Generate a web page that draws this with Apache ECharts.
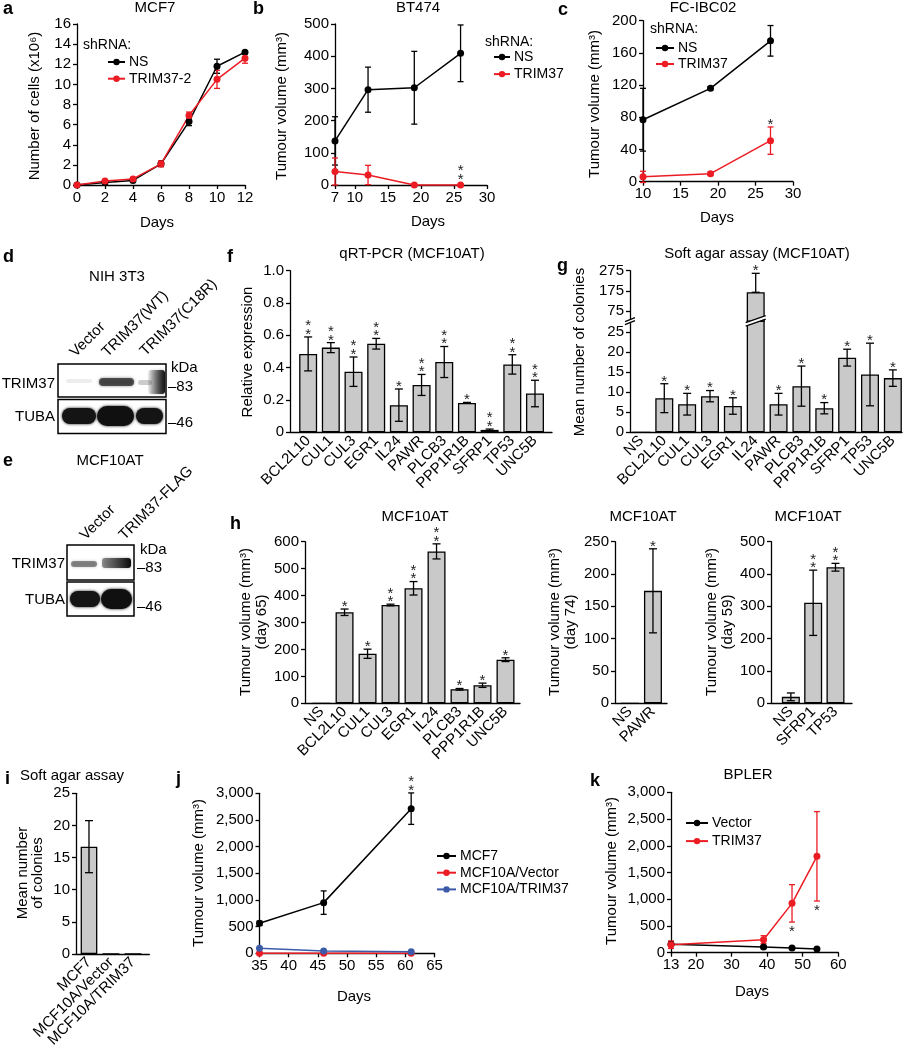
<!DOCTYPE html>
<html><head><meta charset="utf-8">
<script src="https://cdn.jsdelivr.net/npm/echarts@6/dist/echarts.min.js"></script>
<style>html,body{margin:0;padding:0;background:#fff}#c{width:909px;height:1050px}</style>
</head><body><div id="c"></div><script>
// ---------------- DATA ----------------
const aDays = [0, 2, 4, 6, 8, 10, 12];
const aNS = [0, 0.25, 0.45, 2.1, 6.3, 11.8, 13.2];
const aNSErr = [0, 0.1, 0.1, 0.2, 0.4, 0.7, 0.15];
const aTR = [0, 0.4, 0.6, 2.1, 6.9, 10.5, 12.6];
const aTRErr = [0, 0.15, 0.15, 0.3, 0.35, 0.9, 0.5];

const bDays = [7, 12, 19, 26];
const bNS = [137, 296, 302, 409];
const bNSErr = [75, 70, 113, 88];
const bTR = [42, 31, 0, 0];
const bTRErr = [42, 30, 0, 0];
const bStars = ['', '', '', '**'];

const cDays = [10, 19, 27];
const cNS = [77, 116, 175];
const cNSErr = [39, 2, 19];
const cTR = [6, 10, 51];
const cTRErr = [7, 2, 17];
const cStars = ['', '', '*'];

const fGenes = ['BCL2L10','CUL1','CUL3','EGR1','IL24','PAWR','PLCB3','PPP1R1B','SFRP1','TP53','UNC5B'];
const fVal = [0.485, 0.524, 0.375, 0.548, 0.168, 0.293, 0.435, 0.182, 0.015, 0.42, 0.24];
const fErr = [0.105, 0.031, 0.091, 0.033, 0.1, 0.065, 0.096, 0.003, 0.005, 0.06, 0.082];
const fStars = ['**','**','**','**','*','**','**','*','**','**','**'];

const gGenes = ['NS','BCL2L10','CUL1','CUL3','EGR1','IL24','PAWR','PLCB3','PPP1R1B','SFRP1','TP53','UNC5B'];
const gVal = [0, 8.5, 7.0, 9.0, 6.55, 168, 7.0, 11.5, 6.0, 18.6, 14.4, 13.5];
const gErrUp = [0, 3.6, 2.7, 1.4, 2.05, 94, 2.7, 5.0, 1.4, 2.1, 7.8, 2.05];
const gErrDown = [0, 3.6, 2.7, 1.4, 2.05, 0, 2.7, 5.0, 1.4, 2.1, 7.8, 2.05];
const gStars = ['', '*','*','*','*','*','*','*','*','*','*','*'];
const gLowTicks = [0, 5, 10, 15, 20, 25];
const gHighTicks = [75, 175, 275];

const h1Genes = ['NS','BCL2L10','CUL1','CUL3','EGR1','IL24','PLCB3','PPP1R1B','UNC5B'];
const h1Val = [0, 338, 184, 365, 427, 564, 52, 67, 162];
const h1Err = [0, 12, 17, 3, 25, 28, 3, 8, 7];
const h1Stars = ['', '*', '*', '**', '**', '**', '*', '*', '*'];

const h2Genes = ['NS', 'PAWR'];
const h2Val = [0, 174];
const h2Err = [0, 65];
const h2Stars = ['', '*'];

const h3Genes = ['NS', 'SFRP1', 'TP53'];
const h3Val = [20, 311, 421];
const h3Err = [12, 101, 12];
const h3Stars = ['', '**', '**'];

const iCells = ['MCF7', 'MCF10A/Vector', 'MCF10A/TRIM37'];
const iVal = [16.7, 0, 0];
const iErr = [4.05, 0, 0];

const jDays = [35, 46, 61];
const jMCF7 = [562, 950, 2712];
const jMCF7Err = [40, 220, 295];
const jVector = [0, 0, 0];
const jTRIM = [94, 44, 31];
const jStars = ['', '', '**'];

const kDays = [13, 39, 47, 54];
const kVector = [156, 106, 87, 69];
const kVectorErr = [40, 20, 15, 10];
const kTRIM = [150, 243, 923, 1803];
const kTRIMErr = [70, 75, 350, 836];
const kStars = ['', '', '*', '*'];

const bTicks = [7, 10, 15, 20, 25, 30];
const kTicks = [13, 20, 30, 40, 50, 60];

// ---------------- STYLE ----------------
const FF = '"Liberation Sans", Arial, sans-serif';
const FS = 15;
const RED = '#ec1c24', BLUE = '#3b5ba9', BLACK = '#000000', GRAY = '#c9c9c9';

const grids = [
  {left: 77, top: 24, width: 168, height: 161},       // 0 a
  {left: 335, top: 24, width: 152, height: 161},      // 1 b
  {left: 643, top: 20.7, width: 150, height: 161},    // 2 c
  {left: 290, top: 270.7, width: 262, height: 161.6}, // 3 f
  {left: 630, top: 321.1, width: 272, height: 111.2}, // 4 g lower
  {left: 630, top: 270.7, width: 272, height: 50.4},  // 5 g upper
  {left: 305, top: 541.7, width: 215, height: 161.6}, // 6 h1
  {left: 615, top: 541.7, width: 52, height: 161.6},  // 7 h2
  {left: 771, top: 541.7, width: 81, height: 161.6},  // 8 h3
  {left: 76, top: 793.3, width: 73.3, height: 160.7}, // 9 i
  {left: 259.5, top: 793.3, width: 175, height: 160}, // 10 j
  {left: 671, top: 792.3, width: 167.3, height: 160.4}// 11 k
].map(g => Object.assign({containLabel: false, outerBoundsMode: 'none'}, g));

function axLine(show){ return {show: show !== false, onZero: false, lineStyle: {color: '#000', width: 1.3}}; }
function tick(custom){ const t = {show: true, length: 4, inside: false, lineStyle: {color: '#000', width: 1.3}}; if (custom) t.customValues = custom; return t; }
function lab(extra){ return Object.assign({color: '#000', fontSize: FS, fontFamily: FF, margin: 5}, extra || {}); }

function vX(gi, min, max, interval, custom){
  const a = {type: 'value', gridIndex: gi, min, max, axisLine: axLine(), axisTick: tick(custom), axisLabel: lab(), splitLine: {show: false}};
  if (interval) a.interval = interval;
  if (custom) a.axisLabel.customValues = custom;
  return a;
}
function cX(gi, cats, min, max, hidden){
  return {type: 'value', gridIndex: gi, min, max, axisLine: axLine(!hidden), axisTick: {show: false},
    axisLabel: hidden ? {show: false} : lab({customValues: cats.map((_, i) => i), formatter: v => cats[Math.round(v)] || '', rotate: 45, margin: 6}),
    splitLine: {show: false}};
}
function vY(gi, min, max, interval, custom, fmt){
  const a = {type: 'value', gridIndex: gi, min, max, axisLine: axLine(), axisTick: tick(custom), axisLabel: lab({margin: 6}), splitLine: {show: false}};
  if (interval) a.interval = interval;
  if (custom) a.axisLabel.customValues = custom;
  if (fmt) a.axisLabel.formatter = fmt;
  return a;
}
const comma = v => v === 0 ? '0' : v.toLocaleString('en-US');

const xAxes = [
  vX(0, 0, 12, 2), vX(1, 7, 30, null, bTicks), vX(2, 10, 30, 5),
  cX(3, fGenes, -0.8, 10.75), cX(4, gGenes, -0.5, 11.4), cX(5, gGenes, -0.5, 11.4, true),
  cX(6, h1Genes, -0.72, 8.63), cX(7, h2Genes, -0.65, 1.61), cX(8, h3Genes, -0.89, 2.74),
  cX(9, iCells, -0.59, 2.74), vX(10, 35, 65, 5), vX(11, 13, 60, null, kTicks)
];
const yAxes = [
  vY(0, 0, 16, 2), vY(1, 0, 500, 100), vY(2, 0, 200, 40),
  vY(3, 0, 1, 0.2, null, v => v === 0 ? '0' : v.toFixed(1)),
  vY(4, 0, 27.7, null, gLowTicks), vY(5, 25, 275, null, gHighTicks),
  vY(6, 0, 600, 100), vY(7, 0, 250, 50), vY(8, 0, 500, 100),
  vY(9, 0, 25, 5), vY(10, 0, 3000, 500, null, comma), vY(11, 0, 3000, 500, null, comma)
];

// ---------------- SERIES HELPERS ----------------
function errSeries(ax, xs, lo, hi, color, capW){
  return {type: 'custom', xAxisIndex: ax, yAxisIndex: ax, z: 2, silent: true,
    data: xs.map((x, i) => [x, lo[i], hi[i]]),
    renderItem(params, api){
      const x = api.value(0), l = api.value(1), h = api.value(2);
      if (!(h - l > 0)) return null;
      const pl = api.coord([x, l]), ph = api.coord([x, h]);
      const w = capW / 2, st = {stroke: color, lineWidth: 1.3};
      return {type: 'group', children: [
        {type: 'line', shape: {x1: pl[0], y1: pl[1], x2: ph[0], y2: ph[1]}, style: st},
        {type: 'line', shape: {x1: ph[0] - w, y1: ph[1], x2: ph[0] + w, y2: ph[1]}, style: st},
        {type: 'line', shape: {x1: pl[0] - w, y1: pl[1], x2: pl[0] + w, y2: pl[1]}, style: st}
      ]};
    }};
}
function starSeries(ax, xs, anchors, texts, below, extra){
  return {type: 'custom', xAxisIndex: ax, yAxisIndex: ax, z: 6, silent: true,
    data: xs.map((x, i) => [x, anchors[i], i]),
    renderItem(params, api){
      const t = texts[api.value(2)];
      if (!t) return null;
      const p = api.coord([api.value(0), api.value(1)]);
      return {type: 'text', x: p[0], y: p[1] + (below ? 5.8 : 2) + (extra || 0),
        style: {text: t.split('').join('\n'), align: 'center', verticalAlign: below ? 'top' : 'bottom',
          font: '15px ' + FF, lineHeight: 8.5, fill: '#222'}};
    }};
}
function barSeries(ax, xs, vals, bw){
  return {type: 'bar', xAxisIndex: ax, yAxisIndex: ax, z: 1, silent: true, clip: true, barWidth: bw || 18,
    data: xs.map((x, i) => [x, vals[i]]),
    itemStyle: {color: GRAY, borderColor: '#000', borderWidth: 1.3}};
}
function lineSeries(ax, name, xs, vals, color){
  return {type: 'line', name, xAxisIndex: ax, yAxisIndex: ax, z: 3, silent: true, clip: false,
    data: xs.map((x, i) => [x, vals[i]]), symbol: 'circle', symbolSize: 7, showSymbol: true,
    lineStyle: {color, width: 1.5}, itemStyle: {color}};
}
const idx = arr => arr.map((_, i) => i);
const sub = (a, b) => a.map((v, i) => v - b[i]);
const add = (a, b) => a.map((v, i) => v + b[i]);

const series = [];
// a
series.push(errSeries(0, aDays, sub(aNS, aNSErr), add(aNS, aNSErr), BLACK, 6));
series.push(errSeries(0, aDays, sub(aTR, aTRErr), add(aTR, aTRErr), RED, 6));
series.push(lineSeries(0, 'NS', aDays, aNS, BLACK));
series.push(lineSeries(0, 'TRIM37-2', aDays, aTR, RED));
// b
series.push(errSeries(1, bDays, sub(bNS, bNSErr), add(bNS, bNSErr), BLACK, 6));
series.push(errSeries(1, bDays, sub(bTR, bTRErr), add(bTR, bTRErr), RED, 6));
series.push(lineSeries(1, 'NS', bDays, bNS, BLACK));
series.push(lineSeries(1, 'TRIM37', bDays, bTR, RED));
series.push(starSeries(1, bDays, add(bTR, bTRErr), bStars, false, -3));
// c
series.push(errSeries(2, cDays, sub(cNS, cNSErr), add(cNS, cNSErr), BLACK, 6));
series.push(errSeries(2, cDays, sub(cTR, cTRErr), add(cTR, cTRErr), RED, 6));
series.push(lineSeries(2, 'NS', cDays, cNS, BLACK));
series.push(lineSeries(2, 'TRIM37', cDays, cTR, RED));
series.push(starSeries(2, cDays, add(cTR, cTRErr), cStars, false));
// f
series.push(barSeries(3, idx(fGenes), fVal));
series.push(errSeries(3, idx(fGenes), sub(fVal, fErr), add(fVal, fErr), BLACK, 8));
series.push(starSeries(3, idx(fGenes), add(fVal, fErr), fStars, false));
// g lower (all but IL24 errors) and upper (IL24 only)
const gIdx = idx(gGenes);
const gIL = gGenes.indexOf('IL24');
const gLowIdx = gIdx.filter(i => i !== gIL);
series.push(barSeries(4, gIdx, gVal));
series.push(errSeries(4, gLowIdx, gLowIdx.map(i => gVal[i] - gErrDown[i]), gLowIdx.map(i => gVal[i] + gErrUp[i]), BLACK, 8));
series.push(starSeries(4, gLowIdx, gLowIdx.map(i => gVal[i] + gErrUp[i]), gLowIdx.map(i => gStars[i]), false));
series.push(barSeries(5, [gIL], [gVal[gIL]]));
series.push(errSeries(5, [gIL], [gVal[gIL] - gErrDown[gIL]], [gVal[gIL] + gErrUp[gIL]], BLACK, 8));
series.push(starSeries(5, [gIL], [gVal[gIL] + gErrUp[gIL]], [gStars[gIL]], false));
// h1, h2, h3
[[6, h1Genes, h1Val, h1Err, h1Stars], [7, h2Genes, h2Val, h2Err, h2Stars], [8, h3Genes, h3Val, h3Err, h3Stars]].forEach(([ax, cats, v, e, s]) => {
  series.push(barSeries(ax, idx(cats), v));
  series.push(errSeries(ax, idx(cats), sub(v, e), add(v, e), BLACK, 8));
  series.push(starSeries(ax, idx(cats), add(v, e), s, false));
});
// i
series.push(barSeries(9, idx(iCells), iVal, 16.7));
series.push(errSeries(9, idx(iCells), sub(iVal, iErr), add(iVal, iErr), BLACK, 8));
// j
series.push(errSeries(10, jDays, sub(jMCF7, jMCF7Err), add(jMCF7, jMCF7Err), BLACK, 6));
series.push(lineSeries(10, 'MCF7', jDays, jMCF7, BLACK));
series.push(lineSeries(10, 'MCF10A/Vector', jDays, jVector, RED));
series.push(lineSeries(10, 'MCF10A/TRIM37', jDays, jTRIM, BLUE));
series.push(starSeries(10, jDays, add(jMCF7, jMCF7Err), jStars, false));
// k
series.push(errSeries(11, kDays, sub(kVector, kVectorErr), add(kVector, kVectorErr), BLACK, 6));
series.push(errSeries(11, kDays, sub(kTRIM, kTRIMErr), add(kTRIM, kTRIMErr), RED, 6));
series.push(lineSeries(11, 'Vector', kDays, kVector, BLACK));
series.push(lineSeries(11, 'TRIM37', kDays, kTRIM, RED));
series.push(starSeries(11, kDays, sub(kTRIM, kTRIMErr), kStars, true));

// ---------------- LEGENDS ----------------
function leg(names, left, top, iw, gap){
  return {data: names, left, top, orient: 'vertical', itemWidth: iw, itemHeight: 8, itemGap: gap,
    padding: 0, selectedMode: false,
    textStyle: {fontSize: 14, fontFamily: FF, color: '#000', padding: [0, 0, 0, -1]}};
}
const legends = [
  leg(['NS', 'TRIM37-2'], 107, 55, 17, 2.7),
  leg(['NS', 'TRIM37'], 493, 50, 16, 3.1),
  leg(['NS', 'TRIM37'], 655, 41, 18, 2),
  leg(['MCF7', 'MCF10A/Vector', 'MCF10A/TRIM37'], 436, 849, 19, 2.7),
  leg(['Vector', 'TRIM37'], 685, 816, 22, 4.1)
];

// ---------------- TEXT / DECORATION ----------------
function T(text, x, y, o){
  o = o || {};
  return {type: 'text', x, y, rotation: o.rot || 0, silent: true, z: 10,
    style: {text, fill: o.color || '#000', font: (o.bold ? 'bold ' : '') + (o.size || FS) + 'px ' + FF,
      align: o.align || 'center', verticalAlign: o.va || 'middle'}};
}
const V = Math.PI / 2, D = Math.PI / 4;
const texts = [
  // panel letters
  T('a', 3, 9.5, {bold: true, size: 18, align: 'left'}), T('b', 253, 9, {bold: true, size: 18, align: 'left'}),
  T('c', 558, 10, {bold: true, size: 18, align: 'left'}), T('d', 3, 257, {bold: true, size: 18, align: 'left'}),
  T('f', 227, 257, {bold: true, size: 18, align: 'left'}), T('g', 557, 266, {bold: true, size: 18, align: 'left'}),
  T('e', 3, 461, {bold: true, size: 18, align: 'left'}), T('h', 230, 524, {bold: true, size: 18, align: 'left'}),
  T('i', 5, 779, {bold: true, size: 18, align: 'left'}), T('j', 176, 779, {bold: true, size: 18, align: 'left'}),
  T('k', 590, 781, {bold: true, size: 18, align: 'left'}),
  // titles
  T('MCF7', 155, 7.5), T('BT474', 418, 7.5), T('FC-IBC02', 703, 7.5),
  T('qRT-PCR (MCF10AT)', 412, 253.5), T('Soft agar assay (MCF10AT)', 757, 253.5),
  T('MCF10AT', 415, 517), T('MCF10AT', 643, 517), T('MCF10AT', 808, 517),
  T('Soft agar assay', 72, 776), T('BPLER', 748, 775),
  T('NIH 3T3', 117, 277), T('MCF10AT', 110, 461),
  // legend headings
  T('shRNA:', 83, 45, {align: 'left', size: 14}), T('shRNA:', 485, 42, {align: 'left', size: 14}),
  T('shRNA:', 650, 29.5, {align: 'left', size: 14}),
  // x axis names
  T('Days', 157, 223), T('Days', 428, 222), T('Days', 717, 218), T('Days', 354, 997), T('Days', 752, 992),
  // y axis names
  T('Number of cells (x10\u2076)', 35, 106, {rot: V}),
  T('Tumour volume (mm\u00b3)', 282, 106, {rot: V}),
  T('Tumour volume (mm\u00b3)', 595, 104, {rot: V}),
  T('Relative expression', 248, 352, {rot: V}),
  T('Mean number of colonies', 580, 352, {rot: V}),
  T('Tumour volume (mm\u00b3)', 246, 622, {rot: V}), T('(day 65)', 262, 622, {rot: V}),
  T('Tumour volume (mm\u00b3)', 555, 622, {rot: V}), T('(day 74)', 571, 622, {rot: V}),
  T('Tumour volume (mm\u00b3)', 712, 622, {rot: V}), T('(day 59)', 728, 622, {rot: V}),
  T('Mean number', 23, 873, {rot: V}), T('of colonies', 38, 873, {rot: V}),
  T('Tumour volume (mm\u00b3)', 199, 873, {rot: V}),
  T('Tumour volume (mm\u00b3)', 612, 871, {rot: V}),
  // blot labels d
  T('Vector', 78, 360, {rot: D, align: 'left', va: 'bottom'}),
  T('TRIM37(WT)', 110, 360, {rot: D, align: 'left', va: 'bottom'}),
  T('TRIM37(C18R)', 148, 359, {rot: D, align: 'left', va: 'bottom'}),
  T('TRIM37', 55, 384, {align: 'right'}), T('TUBA', 55, 417, {align: 'right'}),
  T('kDa', 171, 368, {align: 'left'}), T('\u201383', 168, 387, {align: 'left'}), T('\u201346', 168, 423, {align: 'left'}),
  // blot labels e
  T('Vector', 88, 543, {rot: D, align: 'left', va: 'bottom'}),
  T('TRIM37-FLAG', 127, 543, {rot: D, align: 'left', va: 'bottom'}),
  T('TRIM37', 65, 564, {align: 'right'}), T('TUBA', 65, 600, {align: 'right'}),
  T('kDa', 140, 550, {align: 'left'}), T('\u201383', 137, 568, {align: 'left'}), T('\u201346', 137, 607, {align: 'left'})
];

function box(x, y, w, h){ return {type: 'rect', silent: true, z: 5, shape: {x, y, width: w, height: h}, style: {fill: '#fff', stroke: '#000', lineWidth: 1.5}}; }
function band(x, y, w, h, fill, blur){
  return {type: 'rect', silent: true, z: 6, shape: {x, y, width: w, height: h, r: h / 2},
    style: {fill, shadowBlur: blur || 3, shadowColor: fill}};
}
function grad(x, y, w, h, c0, c1){
  return {type: 'rect', silent: true, z: 6, shape: {x, y, width: w, height: h, r: 3},
    style: {fill: {type: 'linear', x: 0, y: 0, x2: 1, y2: 0, colorStops: [{offset: 0, color: c0}, {offset: 1, color: c1}]}, shadowBlur: 3, shadowColor: 'rgba(0,0,0,0.4)'}};
}
const blots = [
  box(58, 364, 108, 33), box(58, 399.5, 108, 34),
  band(66, 379, 26, 4, 'rgba(0,0,0,0.07)'),
  band(99, 378, 35, 8, 'rgba(40,40,40,0.75)'),
  band(138, 380, 14, 5, 'rgba(0,0,0,0.18)'),
  grad(148, 370, 17, 24, 'rgba(0,0,0,0.05)', 'rgba(0,0,0,0.9)'),
  band(62, 408, 34, 16, '#141414'), band(97, 406, 37, 20, '#101010'), band(136, 408, 27, 16, '#141414'),
  box(67, 545, 67, 35), box(67, 582, 67, 34),
  band(71, 561, 26, 6, 'rgba(60,60,60,0.55)'),
  grad(102, 558, 29, 10, 'rgba(60,60,60,0.5)', 'rgba(0,0,0,0.95)'),
  band(70, 591, 30, 16, '#151515'), band(101, 589, 31, 20, '#101010')
];

const chart = echarts.init(document.getElementById('c'), null, {renderer: 'canvas'});
chart.setOption({
  animation: false, backgroundColor: '#fff',
  textStyle: {fontFamily: FF},
  grid: grids, xAxis: xAxes, yAxis: yAxes, legend: legends, series
});

// axis-break marks on panel g, positioned through the chart's own scales
const pBar = chart.convertToPixel({gridIndex: 4}, [gIL, 27.7]);
const pAx = chart.convertToPixel({gridIndex: 4}, [-0.5, 27.7]);
const bx = pBar[0], by = pBar[1], ax = pAx[0];
const bw = 10;
const breaks = [
  {type: 'polygon', silent: true, z: 20, shape: {points: [[bx - bw, by + 5], [bx + bw, by - 2], [bx + bw, by - 5.5], [bx - bw, by + 1.5]]}, style: {fill: '#fff'}},
  {type: 'line', silent: true, z: 21, shape: {x1: bx - bw, y1: by + 5, x2: bx + bw, y2: by - 2}, style: {stroke: '#000', lineWidth: 1.2}},
  {type: 'line', silent: true, z: 21, shape: {x1: bx - bw, y1: by + 1.5, x2: bx + bw, y2: by - 5.5}, style: {stroke: '#000', lineWidth: 1.2}},
  {type: 'rect', silent: true, z: 20, shape: {x: ax - 2, y: by - 2, width: 4, height: 4}, style: {fill: '#fff'}},
  {type: 'line', silent: true, z: 21, shape: {x1: ax - 5, y1: by + 3.5, x2: ax + 5, y2: by - 0.5}, style: {stroke: '#000', lineWidth: 1.2}},
  {type: 'line', silent: true, z: 21, shape: {x1: ax - 5, y1: by + 0.5, x2: ax + 5, y2: by - 3.5}, style: {stroke: '#000', lineWidth: 1.2}}
];
chart.setOption({graphic: texts.concat(blots, breaks)});
</script></body></html>
